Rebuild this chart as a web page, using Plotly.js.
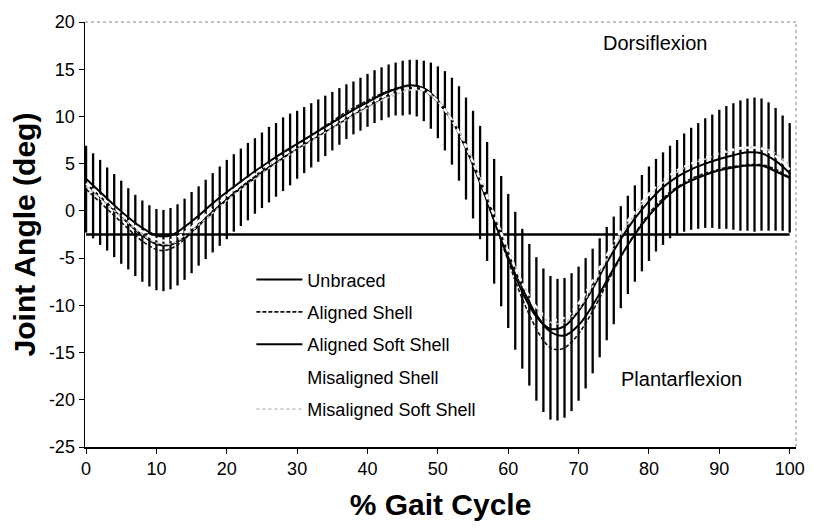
<!DOCTYPE html>
<html>
<head>
<meta charset="utf-8">
<script src="https://cdn.plot.ly/plotly-3.0.1.min.js"></script>
<style>
  html, body { margin: 0; padding: 0; background: #fff; }
  #chart { width: 813px; height: 528px; }
</style>
</head>
<body>
<div id="chart"></div>
<script>
// Ankle joint angle over the gait cycle (mean curves, SD bars on the Aligned Shell condition)
const seriesNames = ["Unbraced", "Aligned Shell", "Aligned Soft Shell", "Misaligned Shell", "Misaligned Soft Shell"];

// Sample positions (% gait cycle): every 1 % and every 2 %
const pctEvery1 = [];
for (let i = 0; i <= 100; i++) pctEvery1.push(i);
const pctEvery2 = [];
for (let i = 0; i <= 100; i += 2) pctEvery2.push(i);

// Aligned Shell mean, every 1 %
const alignedShell = [
  2.3, 1.6, 0.9, 0.2, -0.5, -1.2, -1.9, -2.6, -3.2, -3.7, -4.1,
  -4.2, -4.0, -3.6, -3.0, -2.3, -1.6, -0.9, -0.2, 0.5, 1.2,
  1.9, 2.5, 3.1, 3.7, 4.3, 4.9, 5.4, 6.0, 6.5, 7.0,
  7.5, 8.0, 8.5, 9.0, 9.5, 10.0, 10.5, 10.9, 11.3, 11.7,
  12.1, 12.4, 12.7, 12.9, 13.0, 13.1, 13.0, 12.7, 12.2, 11.5,
  10.6, 9.5, 8.2, 6.6, 4.9, 3.0, 1.0, -1.1, -3.2, -5.3,
  -7.4, -9.3, -11.0, -12.5, -13.7, -14.5, -14.7, -14.5, -13.9, -13.0,
  -11.9, -10.6, -9.2, -7.7, -6.3, -4.9, -3.6, -2.4, -1.3, -0.3,
  0.6, 1.3, 2.0, 2.5, 3.0, 3.4, 3.7, 4.0, 4.2, 4.4,
  4.6, 4.7, 4.8, 4.9, 4.9, 4.9, 4.7, 4.4, 4.0, 3.5
];

// Aligned Shell standard deviation, every 1 %
const alignedShellSD = [
  4.6, 4.5, 4.5, 4.4, 4.4, 4.4, 4.3, 4.3, 4.3, 4.3, 4.3,
  4.3, 4.3, 4.3, 4.3, 4.3, 4.2, 4.2, 4.2, 4.2, 4.2,
  4.1, 4.1, 4.1, 4.0, 4.0, 4.0, 3.9, 3.9, 3.8, 3.6,
  3.5, 3.4, 3.3, 3.2, 3.1, 3.0, 2.9, 2.8, 2.8, 2.8,
  2.8, 2.8, 2.8, 2.8, 2.9, 2.9, 3.0, 3.2, 3.5, 3.8,
  4.2, 4.6, 5.0, 5.4, 5.7, 6.0, 6.3, 6.6, 6.9, 7.1,
  7.3, 7.4, 7.5, 7.6, 7.6, 7.6, 7.5, 7.4, 7.3, 7.1,
  6.9, 6.6, 6.3, 6.0, 5.7, 5.4, 5.2, 5.1, 5.1, 5.0,
  4.9, 4.9, 4.9, 5.0, 5.2, 5.4, 5.6, 5.8, 6.0, 6.3,
  6.5, 6.7, 6.9, 7.0, 7.1, 7.0, 6.8, 6.5, 6.1, 5.8
];

// Remaining conditions, every 2 %
const unbraced = [
  3.4, 2.0, 0.6, -0.7, -1.8, -2.6, -2.6, -1.7, -0.5, 0.8,
  2.0, 3.1, 4.2, 5.2, 6.2, 7.1, 8.0, 8.9, 9.8, 10.7,
  11.5, 12.3, 12.9, 13.3, 13.0, 11.7, 9.6, 6.6, 3.0, -1.0,
  -5.0, -8.6, -11.2, -12.5, -12.2, -10.6, -8.2, -5.5, -3.0, -0.8,
  1.0, 2.5, 3.6, 4.4, 5.0, 5.5, 5.9, 6.2, 6.1, 5.3,
  4.0
];
const alignedSoftShell = [
  2.9, 1.5, 0.1, -1.3, -2.6, -3.5, -3.6, -2.8, -1.5, -0.1,
  1.2, 2.4, 3.5, 4.6, 5.6, 6.6, 7.5, 8.4, 9.3, 10.2,
  11.1, 11.9, 12.6, 13.0, 12.8, 11.6, 9.6, 6.8, 3.3, -0.6,
  -4.5, -8.1, -11.0, -12.8, -13.2, -12.1, -10.0, -7.4, -4.8, -2.5,
  -0.5, 1.1, 2.4, 3.2, 3.8, 4.3, 4.6, 4.8, 4.8, 4.2,
  3.5
];
const misalignedShell = [
  2.9, 1.6, 0.3, -1.0, -2.2, -3.0, -3.1, -2.3, -1.1, 0.3,
  1.6, 2.8, 3.9, 4.9, 5.9, 6.8, 7.7, 8.6, 9.5, 10.4,
  11.2, 12.0, 12.6, 13.0, 12.8, 11.6, 9.6, 6.8, 3.3, -0.5,
  -4.3, -7.7, -10.2, -11.5, -11.3, -9.8, -7.4, -4.7, -2.2, 0.0,
  1.8, 3.2, 4.3, 5.0, 5.6, 6.1, 6.5, 6.7, 6.6, 5.8,
  4.4
];
const misalignedSoftShell = [
  2.6, 1.3, 0.0, -1.3, -2.5, -3.4, -3.5, -2.7, -1.5, -0.2,
  1.1, 2.3, 3.4, 4.5, 5.5, 6.5, 7.4, 8.3, 9.2, 10.1,
  10.9, 11.7, 12.3, 12.8, 12.7, 11.6, 9.7, 7.0, 3.6, -0.2,
  -4.0, -7.5, -10.2, -11.8, -11.8, -10.4, -8.0, -5.2, -2.6, -0.3,
  1.6, 3.0, 4.1, 4.9, 5.5, 6.0, 6.4, 6.7, 6.7, 6.1,
  4.8
];

// Reference level and its extent
const refLevel = -2.5;
const refExtent = [0, 100];

// Phase labels
const phaseLabels = ["Dorsiflexion", "Plantarflexion"];
const phaseX = [80.9, 84.6];
const phaseY = [17.8, -17.8];

const xTicks = [0, 10, 20, 30, 40, 50, 60, 70, 80, 90, 100];
const yTicks = [-25, -20, -15, -10, -5, 0, 5, 10, 15, 20];

const font = "Liberation Sans, Arial, Helvetica, sans-serif";

const traces = [
  {
    x: pctEvery1, y: alignedShell, name: seriesNames[1], legendrank: 2,
    mode: "lines", line: { color: "#111", width: 1.6, dash: "4px,2px", shape: "spline" },
    error_y: { type: "data", array: alignedShellSD, visible: true, color: "#000", thickness: 2.3, width: 0 }
  },
  {
    x: refExtent, y: [refLevel, refLevel], mode: "lines", showlegend: false, hoverinfo: "skip",
    line: { color: "#000", width: 2.5 }
  },
  {
    x: pctEvery2, y: alignedSoftShell, name: seriesNames[2], legendrank: 3,
    mode: "lines", line: { color: "#000", width: 2, shape: "spline" }
  },
  {
    x: pctEvery2, y: unbraced, name: seriesNames[0], legendrank: 1,
    mode: "lines", line: { color: "#000", width: 2, shape: "spline" }
  },
  {
    x: pctEvery2, y: misalignedSoftShell, name: seriesNames[4], legendrank: 5,
    mode: "lines", line: { color: "#c8c8c8", width: 1.6, dash: "dot", shape: "spline" }
  },
  {
    x: pctEvery2, y: misalignedShell, name: seriesNames[3], legendrank: 4,
    mode: "lines", line: { color: "#ffffff", width: 2.4, dash: "5px,3px", shape: "spline" }
  }
];

const layout = {
  width: 813, height: 528,
  margin: { l: 85, r: 17, t: 22, b: 81, pad: 0 },
  paper_bgcolor: "#fff", plot_bgcolor: "#fff",
  font: { family: font, color: "#000", size: 18 },
  showlegend: true,
  legend: {
    x: 0.234, y: 0.437, xanchor: "left", yanchor: "top",
    bgcolor: "rgba(0,0,0,0)", borderwidth: 0,
    font: { family: font, size: 18, color: "#000" },
    traceorder: "grouped", tracegroupgap: 6, itemwidth: 46
  },
  xaxis: {
    range: [-0.15, 100.9], tickvals: xTicks, ticktext: xTicks.map(String),
    showgrid: false, zeroline: false, showline: true, linecolor: "#000", linewidth: 1.5,
    ticks: "outside", ticklen: 5, tickcolor: "#000", tickfont: { size: 18 },
    title: { text: "% Gait Cycle", font: { family: font, size: 30, weight: "bold" }, standoff: 16 }
  },
  yaxis: {
    range: [-25, 20], tickvals: yTicks, ticktext: yTicks.map(String),
    showgrid: false, zeroline: false, showline: true, linecolor: "#000", linewidth: 1.5,
    ticks: "outside", ticklen: 5, tickcolor: "#000", tickfont: { size: 18 },
    title: { text: "Joint Angle (deg)", font: { family: font, size: 30, weight: "bold" }, standoff: 4 }
  },
  shapes: [
    { type: "line", xref: "paper", yref: "paper", x0: 0, x1: 1, y0: 1, y1: 1,
      line: { color: "#888", width: 1, dash: "dot" } },
    { type: "line", xref: "paper", yref: "paper", x0: 1, x1: 1, y0: 0, y1: 1,
      line: { color: "#888", width: 1, dash: "dot" } }
  ],
  annotations: phaseLabels.map((t, i) => ({
    x: phaseX[i], y: phaseY[i], xref: "x", yref: "y", text: t, showarrow: false,
    font: { family: font, size: 20, color: "#000" }
  }))
};

// Legend entries each get their own group so the gap spaces the rows
traces.forEach((t, i) => { if (t.showlegend !== false) t.legendgroup = "g" + t.legendrank; });

Plotly.newPlot("chart", traces, layout, { displayModeBar: false, staticPlot: true });
</script>
</body>
</html>
